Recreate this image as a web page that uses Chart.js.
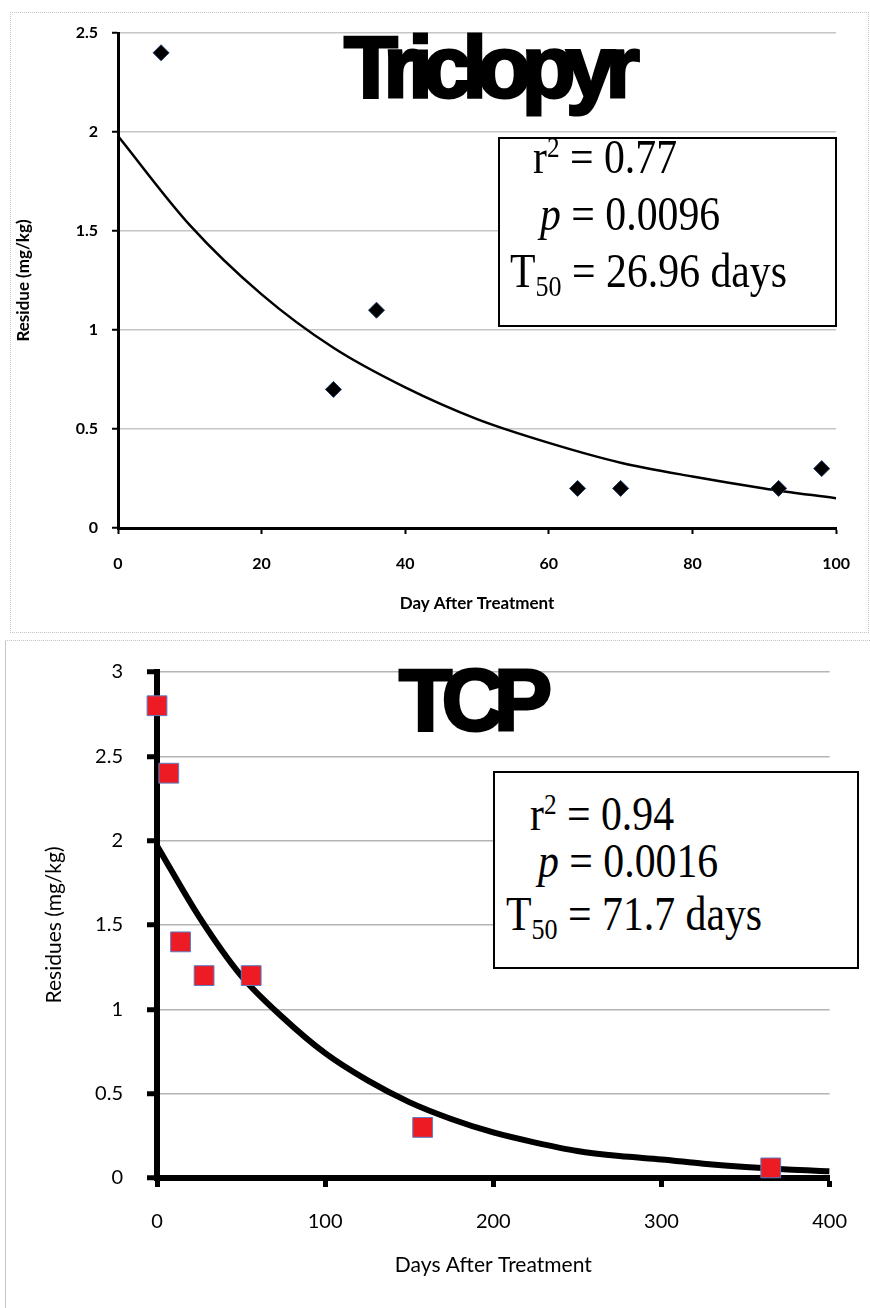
<!DOCTYPE html>
<html>
<head>
<meta charset="utf-8">
<script src="https://cdn.jsdelivr.net/npm/chart.js@4.4.1/dist/chart.umd.min.js"></script>
<style>
  body { margin: 0; background: #fff; }
  #page { position: relative; width: 870px; height: 1308px; overflow: hidden; }
  canvas { position: absolute; left: 0; }
  .panel1 { position: absolute; left: 10px; top: 12px; width: 857px; height: 619px; border: 1px dotted #c4c4c4; }
  .panel2 { position: absolute; left: 5px; top: 640px; width: 870px; height: 680px; border-left: 1px solid #c4c4c4; border-top: 1px dotted #c4c4c4; }
  .big { position: absolute; font-family: 'Liberation Sans', Arial, sans-serif; font-weight: bold; line-height: 1; color: #000; -webkit-text-stroke: 3px #000; white-space: nowrap; }
  .box { position: absolute; border: 2.5px solid #000; background: #fff; }
  .stat { position: absolute; font-family: 'Liberation Serif', 'Times New Roman', serif; font-size: 48px; line-height: 48px; color: #000; white-space: nowrap; transform: scaleX(0.87); transform-origin: left center; }
  .stat sup { font-size: 29px; vertical-align: 16px; line-height: 0; }
  .stat sub { font-size: 30px; vertical-align: -9px; line-height: 0; }
</style>
</head>
<body>
<div id="page">
  <div class="panel1"></div>
  <div class="panel2"></div>
  <canvas id="tri" width="870" height="636" style="top:0"></canvas>
  <canvas id="tcp" width="870" height="672" style="top:636px"></canvas>

  <div class="big" style="left:344px; top:23px; font-size:88px; letter-spacing:-9.5px;">Triclopyr</div>
  <div class="big" style="left:399px; top:656px; font-size:87px; letter-spacing:-10.5px;">TCP</div>

  <div class="box" style="left:498px; top:137px; width:335px; height:186px;"></div>
  <div class="stat" style="left:533px; top:133px;">r<sup>2</sup> = 0.77</div>
  <div class="stat" style="left:540px; top:190px;"><i>p</i> = 0.0096</div>
  <div class="stat" style="left:510px; top:247px;">T<sub>50</sub> = 26.96 days</div>

  <div class="box" style="left:493px; top:771px; width:362px; height:194px;"></div>
  <div class="stat" style="left:530px; top:790px;">r<sup>2</sup> = 0.94</div>
  <div class="stat" style="left:538px; top:837px;"><i>p</i> = 0.0016</div>
  <div class="stat" style="left:506px; top:890px;">T<sub>50</sub> = 71.7 days</div>
</div>

<script>
// Triclopyr residues
const triDays = [6, 30, 36, 64, 70, 92, 98];
const triResidue = [2.4, 0.7, 1.1, 0.2, 0.2, 0.2, 0.3];
// fitted decay curve
const triFitDays = [0, 10, 20, 30, 40, 50, 60, 70, 80, 90, 100];
const triFitResidue = [1.98, 1.53, 1.18, 0.91, 0.71, 0.55, 0.43, 0.33, 0.26, 0.2, 0.15];
const triXTicks = [0, 20, 40, 60, 80, 100];
const triYTicks = [0, 0.5, 1, 1.5, 2, 2.5];

// TCP residues
const tcpDays = [0, 7, 14, 28, 56, 158, 365];
const tcpResidue = [2.8, 2.4, 1.4, 1.2, 1.2, 0.3, 0.06];
const tcpFitDays = [0, 25, 50, 75, 100, 125, 150, 175, 200, 225, 250, 275, 300, 325, 350, 375, 400];
const tcpFitResidue = [1.97, 1.55, 1.2, 0.95, 0.74, 0.58, 0.45, 0.35, 0.27, 0.21, 0.16, 0.13, 0.11, 0.085, 0.065, 0.05, 0.04];
const tcpXTicks = [0, 100, 200, 300, 400];
const tcpYTicks = [0, 0.5, 1, 1.5, 2, 2.5, 3];

function pairs(xs, ys) {
    return xs.map((x, i) => ({ x: x, y: ys[i] }))
}

function makeChart(id, s) {
    return new Chart(document.getElementById(id), {
        type: 'scatter',
        data: {
            datasets: [{
                label: 'fit',
                data: pairs(s.fitX, s.fitY),
                showLine: true,
                borderColor: '#000',
                borderWidth: s.curveWidth,
                pointRadius: 0,
                cubicInterpolationMode: 'monotone',
                order: 2
            }, {
                label: 'residue',
                data: pairs(s.x, s.y),
                pointStyle: s.pointStyle,
                pointRadius: s.pointRadius,
                backgroundColor: s.pointFill,
                borderColor: s.pointBorder,
                borderWidth: 1,
                clip: false,
                order: 1
            }]
        },
        options: {
            responsive: false,
            animation: false,
            layout: { padding: s.padding },
            plugins: { legend: { display: false }, tooltip: { enabled: false } },
            scales: {
                x: {
                    type: 'linear',
                    min: s.xTicks[0],
                    max: s.xTicks[s.xTicks.length - 1],
                    afterBuildTicks: scale => { scale.ticks = s.xTicks.map(v => ({ value: v })) },
                    afterFit: scale => { scale.height = s.xHeight },
                    grid: { drawOnChartArea: false, tickLength: s.xTickLen, tickColor: '#000', tickWidth: s.tickWidth },
                    border: { color: '#000', width: s.axisWidth },
                    ticks: { color: '#000', padding: s.xTickPad, font: s.tickFont, callback: v => String(v) },
                    title: { display: true, text: s.xTitle, color: '#000', font: s.titleFont, padding: { top: 0, bottom: s.xTitlePad } }
                },
                y: {
                    type: 'linear',
                    min: s.yTicks[0],
                    max: s.yTicks[s.yTicks.length - 1],
                    afterBuildTicks: scale => { scale.ticks = s.yTicks.map(v => ({ value: v })) },
                    afterFit: scale => { scale.width = s.yWidth },
                    grid: { color: s.gridColor, lineWidth: 1.5, tickLength: s.yTickLen, tickColor: '#000', tickWidth: s.tickWidth },
                    border: { color: '#000', width: s.axisWidth },
                    ticks: { color: '#000', padding: s.yTickPad, font: s.tickFont, callback: v => String(v) },
                    title: { display: true, text: s.yTitle, color: '#000', font: s.yTitleFont, padding: { top: s.yTitlePad, bottom: 0 } }
                }
            }
        }
    })
}

makeChart('tri', {
    x: triDays, y: triResidue, fitX: triFitDays, fitY: triFitResidue,
    xTicks: triXTicks, yTicks: triYTicks,
    xTitle: 'Day After Treatment', yTitle: 'Residue (mg/kg)',
    padding: { top: 33, right: 28, left: 0, bottom: 0 },
    xHeight: 108, yWidth: 118,
    xTickLen: 6, yTickLen: 6, tickWidth: 2, axisWidth: 3,
    xTickPad: 20, yTickPad: 14,
    xTitlePad: 22, yTitlePad: 13,
    gridColor: '#c6c6c6',
    tickFont: { family: 'Lato, sans-serif', size: 16, weight: 'bold' },
    titleFont: { family: 'Lato, sans-serif', size: 17, weight: 'bold' },
    yTitleFont: { family: 'Lato, sans-serif', size: 17, weight: 'bold' },
    curveWidth: 2.5,
    pointStyle: 'rectRot', pointRadius: 8, pointFill: '#000', pointBorder: '#1f3864'
})

makeChart('tcp', {
    x: tcpDays, y: tcpResidue, fitX: tcpFitDays, fitY: tcpFitResidue,
    xTicks: tcpXTicks, yTicks: tcpYTicks,
    xTitle: 'Days After Treatment', yTitle: 'Residues (mg/kg)',
    padding: { top: 32, right: 36, left: 0, bottom: 0 },
    xHeight: 130, yWidth: 157,
    xTickLen: 9, yTickLen: 10, tickWidth: 5, axisWidth: 6,
    xTickPad: 23, yTickPad: 24,
    xTitlePad: 30, yTitlePad: 42,
    gridColor: '#b4b4b4',
    tickFont: { family: 'Lato, sans-serif', size: 20 },
    titleFont: { family: 'Lato, sans-serif', size: 21 },
    yTitleFont: { family: 'Lato, sans-serif', size: 21 },
    curveWidth: 6,
    pointStyle: 'rect', pointRadius: 14, pointFill: '#ed1c24', pointBorder: '#5b7fc7'
})
</script>
</body>
</html>
